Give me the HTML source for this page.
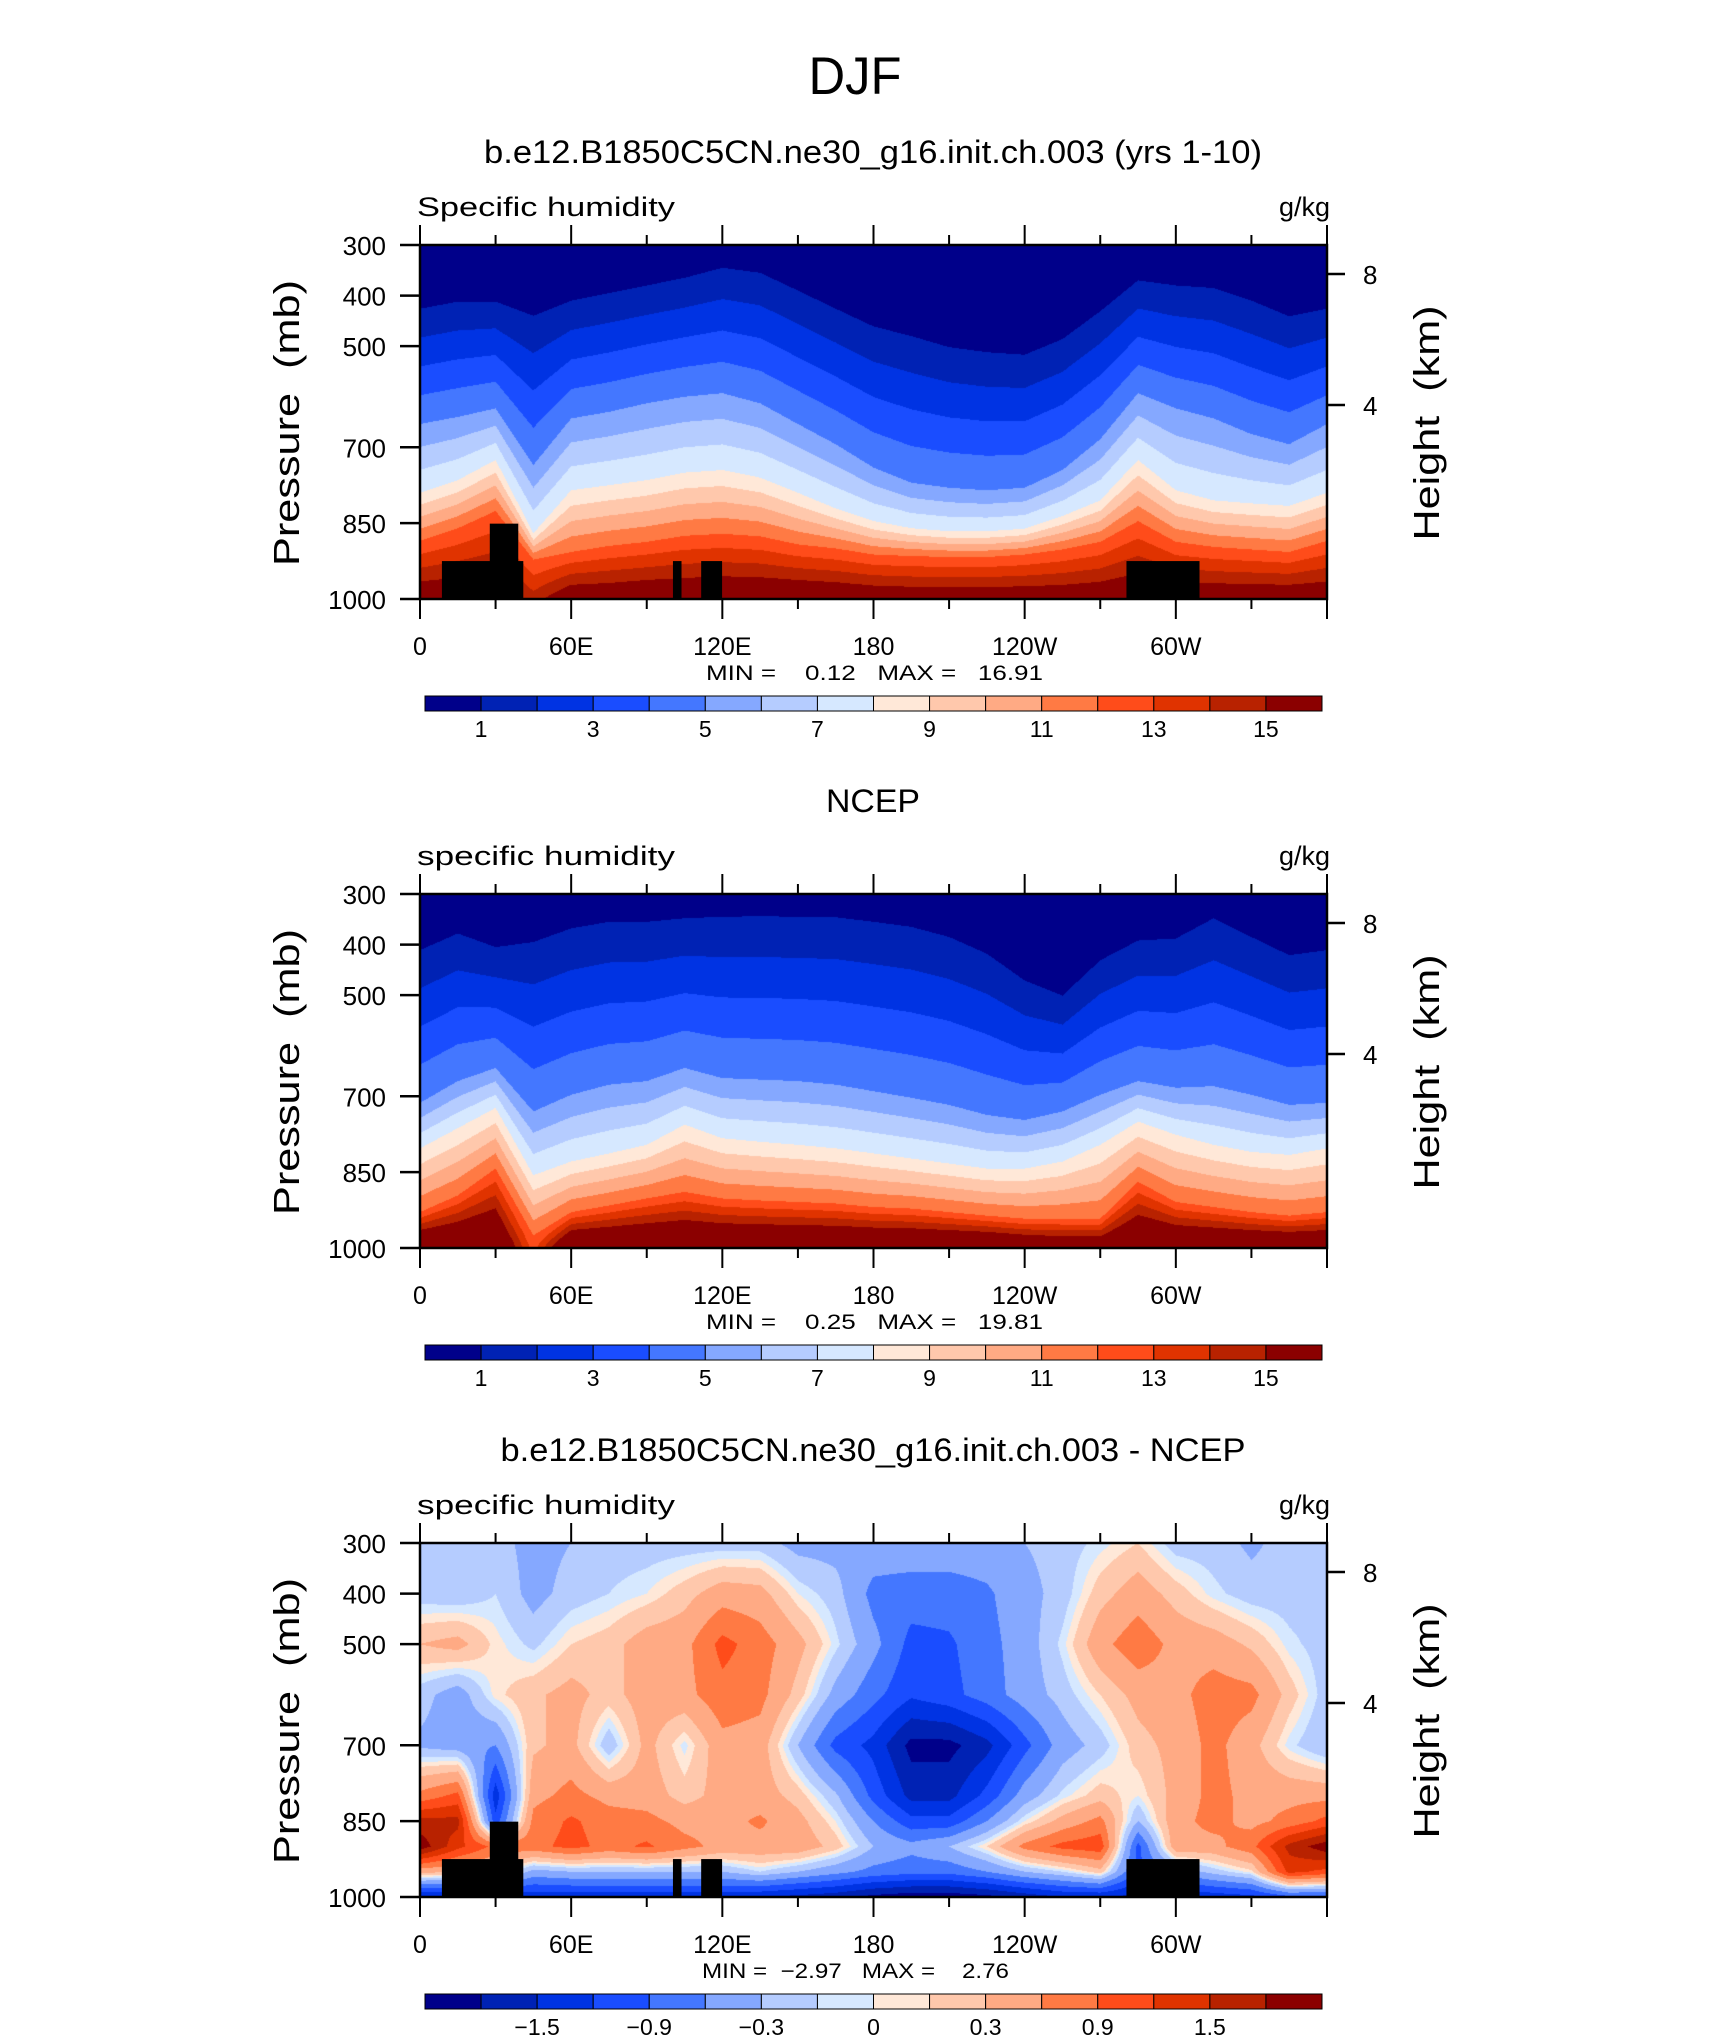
<!DOCTYPE html>
<html><head><meta charset="utf-8"><style>
html,body{margin:0;padding:0;background:#fff;}
#wrap{position:relative;width:1710px;height:2038px;overflow:hidden;background:#fff;}
canvas{position:absolute;left:420px;}
svg{position:absolute;left:0;top:0;}
text{font-family:"Liberation Sans",sans-serif;fill:#000;white-space:pre;}
</style></head><body>
<div id="wrap">
<canvas id="c0" width="907" height="354" style="top:245px"></canvas>
<canvas id="c1" width="907" height="354" style="top:894px"></canvas>
<canvas id="c2" width="907" height="354" style="top:1543px"></canvas>
<svg id="ov" width="1710" height="2038">
<text x="855" y="94" text-anchor="middle" font-size="53" textLength="93" lengthAdjust="spacingAndGlyphs">DJF</text>
</svg>
</div>
<script>
const lons=[0,15,30,45,60,75,90,105,120,135,150,165,180,195,210,225,240,255,270,285,300,315,330,345,360];
// model contour pressures (mb) for q=1,5,8,12 and q at 1000mb
const mP1=[426,412,412,440,410,395,380,365,345,355,390,426,461,480,502,512,517,486,431,370,380,385,410,441,426];
const mP5=[654,640,623,735,643,630,613,600,593,613,654,694,740,770,780,785,780,745,684,593,623,643,674,694,654];
const mP8=[790,765,725,870,785,775,765,750,745,760,790,821,846,860,866,866,861,836,805,725,785,805,811,816,790];
const mP12=[885,860,826,922,907,895,887,875,871,876,892,900,912,915,917,917,912,902,887,846,887,897,902,907,885];
const mQ1000=[16.3,16.3,16.3,14.5,16.3,16.3,16.5,16.5,16.6,16.6,16.6,16.5,16.3,16.2,16.2,16.2,16.2,16.2,16.3,16.5,16.3,16.3,16.3,16.3,16.3];
// NCEP
const nP1=[411,378,405,395,368,355,355,348,345,344,345,346,355,365,385,418,471,501,431,392,388,348,385,421,411];
const nP5=[713,670,644,730,697,677,670,644,664,667,670,677,690,703,717,737,747,730,697,670,683,680,697,717,713];
const nP8=[803,763,723,856,829,813,796,756,783,790,796,803,813,823,833,843,843,829,796,750,776,796,810,816,803];
const nP12=[929,896,843,975,929,916,902,889,902,906,909,912,919,922,929,936,942,942,942,869,909,919,929,936,929];
const nQ1000=[18,18,18,12.5,18,18,18,18,18,18,18,18,18,18,18,18,17.5,17,17,18,18,18,18,18,18];
// difference grid
const dLevels=[300,400,500,600,700,800,850,900,950,1000];
const d300=[-0.2,-0.2,-0.2,-0.4,-0.3,-0.2,-0.2,-0.2,-0.2,-0.2,-0.4,-0.4,-0.4,-0.4,-0.4,-0.4,-0.3,-0.2,-0.05,0.1,-0.2,-0.2,-0.35,-0.2,-0.2];
const d400=[-0.2,-0.25,-0.1,-0.4,-0.2,-0.1,0.0,0.2,0.45,0.4,0.0,-0.2,-0.7,-0.75,-0.75,-0.65,-0.4,-0.2,0.2,0.45,0.2,-0.05,-0.2,-0.2,-0.2];
const d500=[0.3,0.4,0.05,-0.15,0.1,0.2,0.45,0.5,1.0,0.75,0.4,-0.05,-0.5,-1.0,-0.95,-0.7,-0.45,-0.05,0.5,0.8,0.5,0.45,0.25,-0.05,-0.2];
const d600=[-0.2,-0.45,0.05,0.25,0.4,0.2,0.45,0.5,0.8,0.7,0.2,-0.4,-0.8,-1.15,-1.0,-0.75,-0.45,-0.2,0.1,0.4,0.5,0.75,0.7,0.2,-0.2];
const d700=[-0.35,-0.45,-0.6,0.25,0.4,-0.25,0.4,-0.05,0.5,0.45,-0.3,-1.0,-1.3,-1.9,-1.9,-1.6,-1.0,-0.45,-0.2,0.2,0.4,0.7,0.4,-0.05,-0.3];
const d800=[0.7,1.0,-1.4,0.5,0.7,0.5,0.45,0.2,0.4,0.45,0.2,-0.25,-1.0,-1.6,-1.6,-1.1,-0.45,-0.05,0.2,0.0,0.4,0.7,0.5,0.5,0.5];
const d850=[1.6,1.6,-1.1,0.7,0.95,0.75,0.7,0.5,0.5,0.65,0.4,0.0,-0.6,-1.1,-1.1,-0.6,0.0,0.4,0.7,-0.3,0.5,0.7,0.5,0.7,1.0];
const d900=[2.0,1.3,0.8,0.8,1.0,0.8,0.95,0.7,0.5,0.5,0.5,0.2,-0.3,-0.5,-0.3,0.1,0.7,1.0,1.1,-1.0,0.5,0.5,0.8,1.6,2.0];
const d950=[0.4,0.3,0.2,-0.4,-0.3,-0.3,-0.3,-0.3,-0.3,-0.1,-0.3,-0.5,-0.7,-0.8,-0.8,-0.6,-0.3,-0.1,0.2,-1.0,-0.5,-0.2,0.05,1.3,1.1];
const d1000=[-1.6,-1.5,-1.5,-1.4,-1.4,-1.4,-1.4,-1.4,-1.4,-1.5,-1.6,-1.7,-1.9,-2.0,-2.0,-1.9,-1.7,-1.5,-1.5,-1.6,-1.5,-1.4,-1.3,-1.0,-1.0];
const dGrid=[d300,d400,d500,d600,d700,d800,d850,d900,d950,d1000];
// contour levels and tick labels
const qLevels=[1,2,3,4,5,6,7,8,9,10,11,12,13,14,15];
const dContour=[-1.8,-1.5,-1.2,-0.9,-0.6,-0.3,-0.1,0,0.1,0.3,0.6,0.9,1.2,1.5,1.8];
const qBarLabels=["1","3","5","7","9","11","13","15"];
const dBarLabels=["\u22121.5","\u22120.9","\u22120.3","0","0.3","0.9","1.5"];
const pTicks=[300,400,500,700,850,1000];
const kmTicks=["8","4"];
const lonTickVals=[0,60,120,180,240,300];
const lonTickLabels=["0","60E","120E","180","120W","60W"];
const mtnLon0=[8.7,27.7,100.4,111.6,280.4];
const mtnLon1=[41,39,103.8,119.9,309.4];
const mtnTop=[925,851,925,925,925];
const colors=["#00008a","#0022b4","#0033e3","#1a4dff","#4477ff","#85a8ff","#b5ccff","#d6e8ff","#ffe8d8","#ffc8ac","#ffaa84","#ff7a44","#ff4c1a","#e03300","#b82200","#8b0000"];

const PL=420,PW=907,PH=354,TOPS=[245,894,1543];
const hasMask=[true,false,true];
function xL(l){return PL+l/360*PW;}
function yP(p,top){return top+(p-300)/700*PH;}
const rgb=colors.map(h=>[parseInt(h.substr(1,2),16),parseInt(h.substr(3,2),16),parseInt(h.substr(5,2),16)]);
function colIdx(v,lev){let i=0;while(i<lev.length&&v>=lev[i])i++;return i;}
function lerpArr(a,j,t){return a[j]*(1-t)+a[j+1]*t;}
function drawQ(id,P1,P5,P8,P12,Q1000){
  const cv=document.getElementById(id),ctx=cv.getContext('2d');
  const im=ctx.createImageData(PW,PH);
  for(let x=0;x<PW;x++){
    const lon=(x+0.5)/PW*360;let j=Math.min(23,Math.floor(lon/15));const t=(lon-lons[j])/15;
    const ap=[300,lerpArr(P1,j,t),lerpArr(P5,j,t),lerpArr(P8,j,t),lerpArr(P12,j,t),1000];
    const aq=[0.3,1,5,8,12,lerpArr(Q1000,j,t)];
    for(let y=0;y<PH;y++){
      const p=300+(y+0.5)/PH*700;let k=0;while(k<4&&p>ap[k+1])k++;
      const f=(p-ap[k])/Math.max(1e-6,ap[k+1]-ap[k]);
      const q=aq[k]+(aq[k+1]-aq[k])*Math.max(0,Math.min(1,f));
      const c=rgb[colIdx(q,qLevels)];const o=(y*PW+x)*4;
      im.data[o]=c[0];im.data[o+1]=c[1];im.data[o+2]=c[2];im.data[o+3]=255;
    }
  }
  ctx.putImageData(im,0,0);
}
function drawD(id){
  const cv=document.getElementById(id),ctx=cv.getContext('2d');
  const im=ctx.createImageData(PW,PH);
  for(let x=0;x<PW;x++){
    const lon=(x+0.5)/PW*360;let j=Math.min(23,Math.floor(lon/15));const t=(lon-lons[j])/15;
    const col=dGrid.map(r=>lerpArr(r,j,t));
    for(let y=0;y<PH;y++){
      const p=300+(y+0.5)/PH*700;let k=0;while(k<dLevels.length-2&&p>dLevels[k+1])k++;
      const f=(p-dLevels[k])/(dLevels[k+1]-dLevels[k]);
      const v=col[k]*(1-f)+col[k+1]*f;
      const c=rgb[colIdx(v,dContour)];const o=(y*PW+x)*4;
      im.data[o]=c[0];im.data[o+1]=c[1];im.data[o+2]=c[2];im.data[o+3]=255;
    }
  }
  ctx.putImageData(im,0,0);
}
drawQ('c0',mP1,mP5,mP8,mP12,mQ1000);
drawQ('c1',nP1,nP5,nP8,nP12,nQ1000);
drawD('c2');

const NS='http://www.w3.org/2000/svg',svg=document.getElementById('ov');
function mk(tag,at,txt){const e=document.createElementNS(NS,tag);for(const k in at)e.setAttribute(k,at[k]);if(txt!==undefined)e.textContent=txt;svg.appendChild(e);return e;}
const titles=["b.e12.B1850C5CN.ne30_g16.init.ch.003 (yrs 1-10)","NCEP","b.e12.B1850C5CN.ne30_g16.init.ch.003 - NCEP"];
const titleW=[778,94,745];
const subs=["Specific humidity","specific humidity","specific humidity"];
const minmax=["MIN =    0.12   MAX =   16.91","MIN =    0.25   MAX =   19.81","MIN =  \u22122.97   MAX =    2.76"];
const mmX=[706,706,702],mmW=[337,337,307];
for(let k=0;k<3;k++){
  const top=TOPS[k],o=k*649,bot=top+PH;
  let e=mk('text',{x:873,y:163+o,'text-anchor':'middle','font-size':32,textLength:titleW[k],lengthAdjust:'spacingAndGlyphs'},titles[k]);
  
  
  e=mk('text',{x:417,y:216+o,'font-size':27,textLength:258,lengthAdjust:'spacingAndGlyphs'},subs[k]);
  
  
  e=mk('text',{x:1330,y:216+o,'font-size':27,'text-anchor':'end'},"g/kg");
  
  
  // mountains
  if(hasMask[k]){
    for(let m=0;m<mtnLon0.length;m++){
      e=mk('rect',{x:xL(mtnLon0[m]),y:yP(mtnTop[m],top),width:xL(mtnLon1[m])-xL(mtnLon0[m]),height:bot-yP(mtnTop[m],top),fill:'#000'});
      
      
    }
  }
  e=mk('rect',{x:PL,y:top,width:PW,height:PH,fill:'none',stroke:'#000','stroke-width':2.5});
  
  
  // x ticks
  for(let l=0;l<=360;l+=30){
    const maj=l%60===0,len=maj?20:10,x=xL(l);
    e=mk('line',{x1:x,x2:x,y1:top,y2:top-len,stroke:'#000','stroke-width':2});
    
    
    e=mk('line',{x1:x,x2:x,y1:bot,y2:bot+len,stroke:'#000','stroke-width':2});
    
    
  }
  for(let i=0;i<lonTickVals.length;i++){
    e=mk('text',{x:xL(lonTickVals[i]),y:655+o,'text-anchor':'middle','font-size':25},lonTickLabels[i]);
    
    
  }
  for(let i=0;i<pTicks.length;i++){
    const y=yP(pTicks[i],top);
    e=mk('line',{x1:400,x2:PL,y1:y,y2:y,stroke:'#000','stroke-width':2.5});
    
    
    e=mk('text',{x:386,y:y+10,'text-anchor':'end','font-size':26},String(pTicks[i]));
    
    
  }
  const kmY=[top+29,top+160];
  for(let i=0;i<kmTicks.length;i++){
    e=mk('line',{x1:PL+PW,x2:PL+PW+18,y1:kmY[i],y2:kmY[i],stroke:'#000','stroke-width':2.5});
    
    
    e=mk('text',{x:1363,y:kmY[i]+10,'font-size':26},kmTicks[i]);
    
    
  }
  e=mk('text',{x:0,y:0,'font-size':36,'text-anchor':'middle',textLength:286,lengthAdjust:'spacingAndGlyphs',transform:'translate(299,'+(423+o)+') rotate(-90)'},"Pressure  (mb)");
  
  
  e=mk('text',{x:0,y:0,'font-size':36,'text-anchor':'middle',textLength:235,lengthAdjust:'spacingAndGlyphs',transform:'translate(1439,'+(423+o)+') rotate(-90)'},"Height  (km)");
  
  
  e=mk('text',{x:mmX[k],y:680+o,'font-size':21,textLength:mmW[k],lengthAdjust:'spacingAndGlyphs'},minmax[k]);
  
  
  // colorbar
  const cbx=425,cbw=897,cby=696+o,cbh=15,bw=cbw/16;
  for(let i=0;i<16;i++){
    e=mk('rect',{x:cbx+i*bw,y:cby,width:bw,height:cbh,fill:colors[i],stroke:'#000','stroke-width':1});
    
    
  }
  const labs=k<2?qBarLabels:dBarLabels;
  for(let i=0;i<labs.length;i++){
    const b=k<2?(1+2*i):(2+2*i);
    e=mk('text',{x:cbx+b*bw,y:737+o,'text-anchor':'middle','font-size':23},labs[i]);
    
    
  }
}
</script>
</body></html>
